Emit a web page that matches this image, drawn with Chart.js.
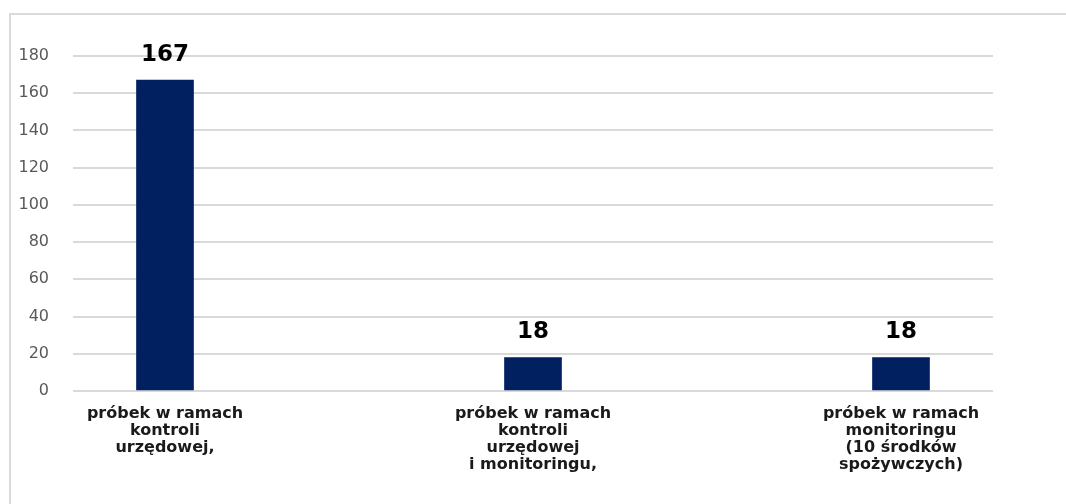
<!DOCTYPE html>
<html>
<head>
<meta charset="utf-8">
<script src="https://cdn.jsdelivr.net/npm/chart.js@4/dist/chart.umd.min.js"></script>
<style>
    html, body { margin: 0; padding: 0; background: #fff; overflow: hidden; }
    #frame {
        position: absolute; left: 9px; top: 13px;
        width: 1200px; height: 600px;
        border: 2px solid #d9d9d9;
    }
    #wrap { position: absolute; left: 0; top: 0; width: 1066px; height: 504px; }
</style>
</head>
<body>
<div id="frame"></div>
<div id="wrap"><canvas id="probki"></canvas></div>
<script>
// kategorie (etykiety osi X, w wierszach) i liczba próbek
const categories = [
    ['próbek w ramach', 'kontroli', 'urzędowej,'],
    ['próbek w ramach', 'kontroli', 'urzędowej', 'i monitoringu,'],
    ['próbek w ramach', 'monitoringu', '(10 środków', 'spożywczych)']
];
const values = [167, 18, 18];
const yTicks = [0, 20, 40, 60, 80, 100, 120, 140, 160, 180];

const FONT = "'DejaVu Sans', Verdana, sans-serif";

// liczby nad słupkami
const valueLabels = {
    id: 'valueLabels',
    afterDatasetsDraw(chart) {
        const ctx = chart.ctx;
        const meta = chart.getDatasetMeta(0);
        ctx.save();
        ctx.font = 'bold 23px ' + FONT;
        ctx.fillStyle = '#000';
        ctx.textAlign = 'center';
        ctx.textBaseline = 'middle';
        meta.data.forEach((bar, i) => {
            ctx.fillText(String(values[i]), bar.x, bar.y - 25);
        });
        ctx.restore();
    }
};

new Chart(document.getElementById('probki').getContext('2d'), {
    type: 'bar',
    data: {
        datasets: [{
            data: values.map((v, i) => ({ x: i, y: v })),
            backgroundColor: '#002060',
            barThickness: 57
        }]
    },
    options: {
        responsive: true,
        maintainAspectRatio: false,
        animation: false,
        layout: { padding: { top: 56, right: 73, left: 0, bottom: 0 } },
        plugins: { legend: { display: false }, tooltip: { enabled: false } },
        scales: {
            x: {
                type: 'linear',
                offset: false,
                min: -0.25,
                max: 2.25,
                afterBuildTicks(scale) {
                    scale.ticks = categories.map((c, i) => ({ value: i }));
                },
                afterFit(scale) { scale.height = 113; },
                grid: { display: false, offset: false },
                border: { display: false },
                ticks: {
                    autoSkip: false,
                    maxRotation: 0,
                    padding: 6,
                    color: '#1a1a1a',
                    font: { family: FONT, size: 16, weight: 'bold', lineHeight: 1.07 },
                    callback: (v) => categories[v]
                }
            },
            y: {
                min: 0,
                max: 180,
                afterBuildTicks(scale) {
                    scale.ticks = yTicks.map(v => ({ value: v }));
                },
                afterFit(scale) { scale.width = 73; },
                grid: { color: '#d9d9d9', lineWidth: 2, drawTicks: false },
                border: { display: false },
                ticks: {
                    padding: 24,
                    color: '#595959',
                    font: { family: FONT, size: 16 }
                }
            }
        }
    },
    plugins: [valueLabels]
});
</script>
</body>
</html>
